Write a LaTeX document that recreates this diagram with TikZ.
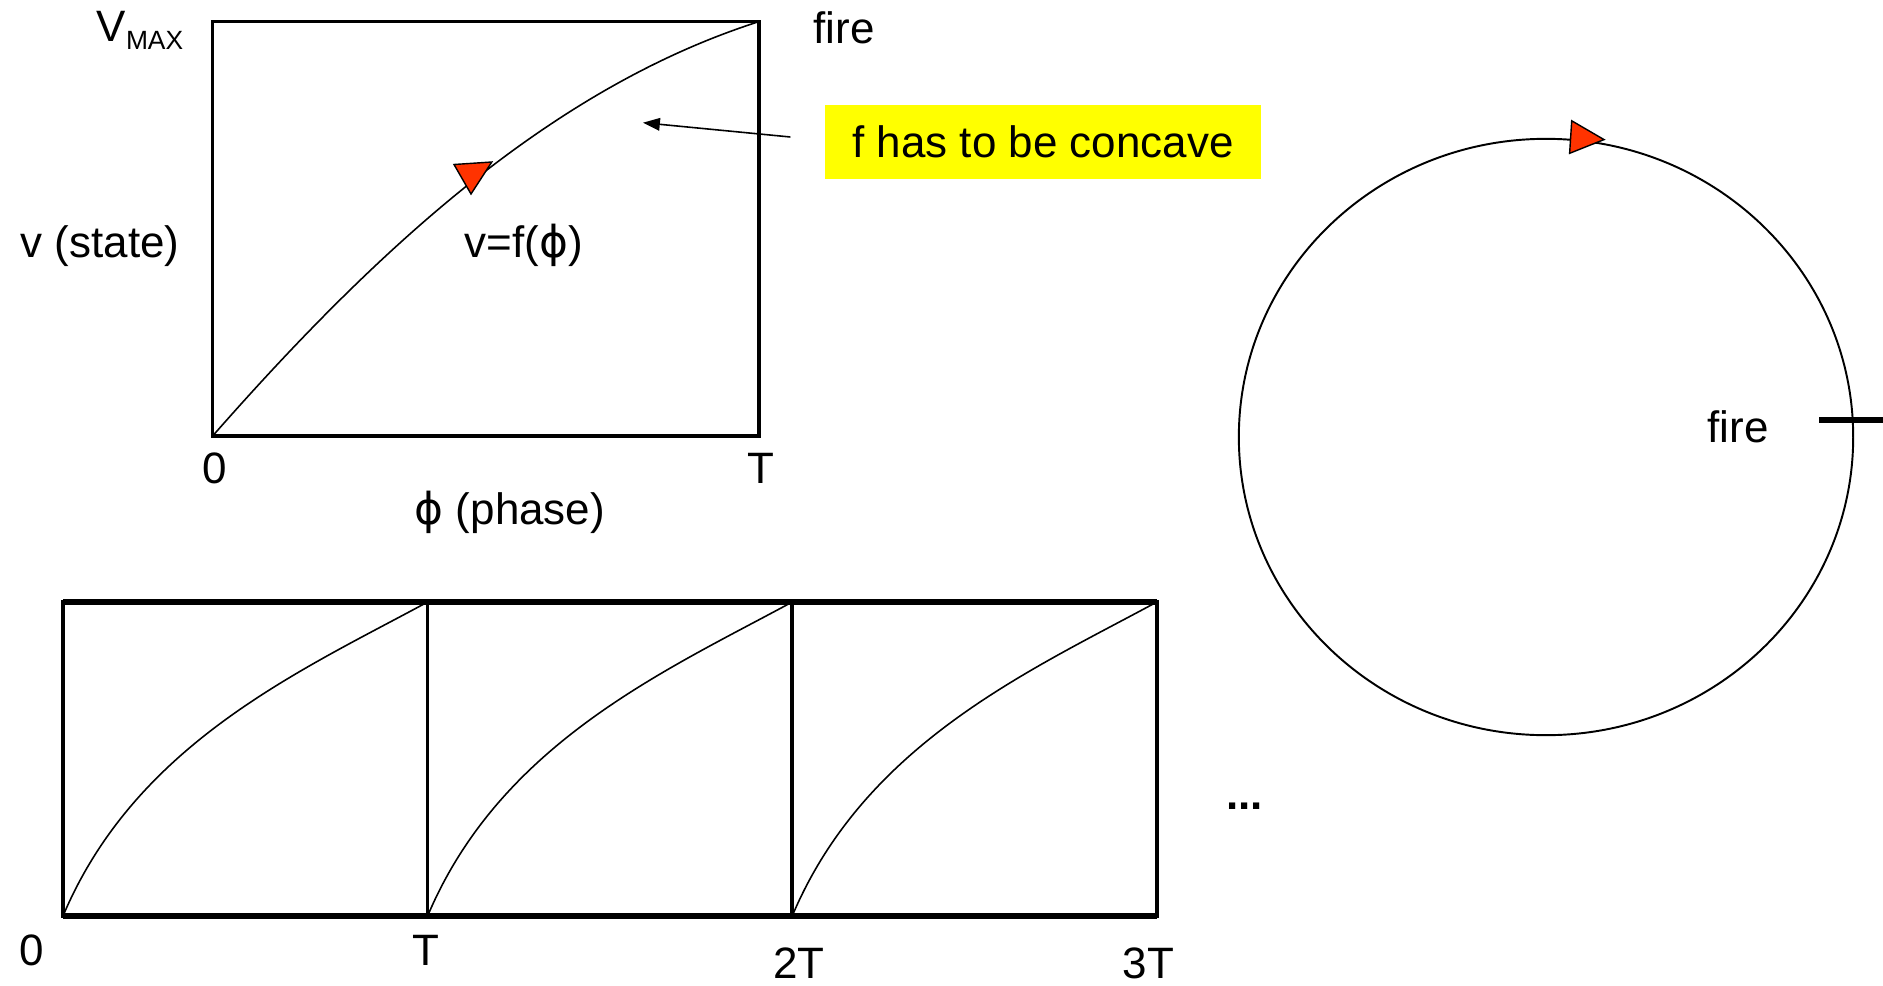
\documentclass[tikz,border=0pt]{standalone}
\usepackage{fontspec}
\setmainfont{Liberation Sans}
\newfontfamily\symfont{DejaVu Sans}
\usetikzlibrary{arrows.meta, calc, positioning}
\definecolor{markred}{RGB}{255,51,0}
\definecolor{noteyellow}{RGB}{255,255,0}
\tikzset{
    box/.style={line width=1pt},
    curve/.style={line width=0.45pt},
    marker/.style={draw=black, fill=markred, line width=0.4pt},
    txt/.style={inner sep=0pt, font=\fontsize{12.5}{15}\selectfont},
}
\newcommand{\ph}{{\symfont ϕ}}

\begin{document}
\begin{tikzpicture}[x=0.01cm, y=-0.01cm]
    \useasboundingbox (0,0) rectangle (1883,985);

    % one period, state against phase
    \draw[box] (212.6,21.6) rectangle (759,436);
    \draw[curve] (212.6,436) .. controls (376.5,249.5) and (551.4,87.9) .. (759,21.6);
    \filldraw[marker] (454,164.5) -- (491.8,162) -- (471,194) -- cycle;
    \node[txt, anchor=base west] (vmax) at (96,42) {V\raisebox{-2pt}{\fontsize{7.5}{8}\selectfont MAX}};
    \node[txt, anchor=base west] (firetop) at (813,44) {fire};
    \node[txt, anchor=base west] (state) at (20,257) {v (state)};
    \node[txt, anchor=base west] (func) at (464,257) {v=f(\ph)};
    \node[txt, anchor=base] (zero) at (215,483) {0};
    \node[txt, anchor=base] (period) at (761,483) {T};
    \node[txt, anchor=base west] (phase) at (414,524) {\ph{} (phase)};

    % remark
    \node[txt, fill=noteyellow, minimum width=4.36cm, minimum height=0.73cm] (note) at (1043,142) {f has to be concave};
    \coordinate (tail) at (790.4,137);
    \coordinate (head) at (643,122.7);
    \draw[-{Triangle[length=4.8pt,width=3.6pt]}, line width=0.45pt] (tail) -- (head);

    % phase circle
    \coordinate (ctr) at (1546,437);
    \draw[line width=0.55pt] (ctr) ellipse [x radius=3.07cm, y radius=2.98cm];
    \filldraw[marker] (1571.7,120.8) -- (1569.6,153.3) -- (1604,139.6) -- cycle;
    \coordinate (tickin) at (1819,420);
    \coordinate (tickout) at (1883,420);
    \draw[line width=1.9pt] (tickin) -- (tickout);
    \node[txt, anchor=base west] (firering) at (1707,442) {fire};

    % unrolled in time
    \def\w{364.6}% width of one period
    \foreach \k in {0,1,2} {
        \pgfmathsetmacro\xa{63+\k*\w}
        \pgfmathsetmacro\xb{\xa+\w}
        \draw[box] (\xa,602) rectangle (\xb,916);
        \draw[curve] (\xa,916) .. controls (\xa+72.9,743.3) and (\xa+237,671.1) .. (\xb,602);
    }
    \draw[line width=1.5pt] (63,602) -- (1156.8,602) (63,916) -- (1156.8,916);
    \foreach \lab/\xx/\yy/\nm in {0/31.5/965/t0, T/426/965/t1, 2T/799/978/t2, 3T/1148.5/978/t3}
        \node[txt, anchor=base] (\nm) at (\xx,\yy) {\lab};
    \node[txt, anchor=base] (more) at (1244.5,809) {\textbf{...}};
\end{tikzpicture}
\end{document}
